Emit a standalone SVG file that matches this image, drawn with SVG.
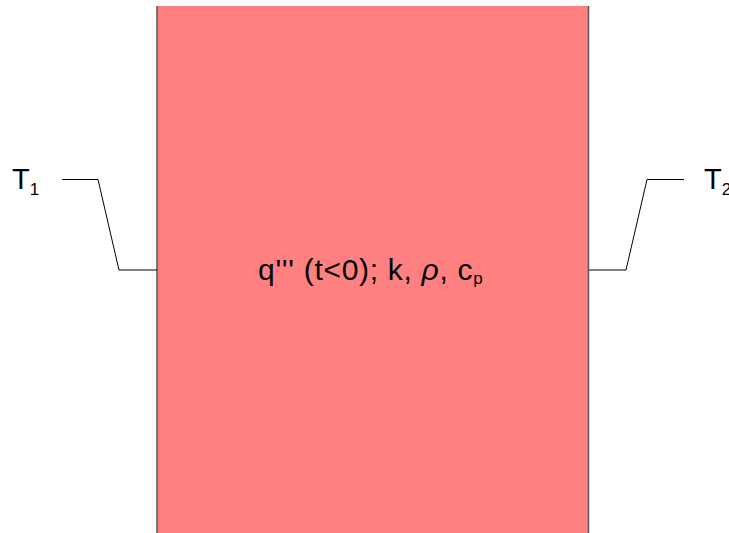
<svg xmlns="http://www.w3.org/2000/svg" width="729" height="533" viewBox="0 0 729 533">
<style>
.lbl{font-family:"Liberation Sans",Arial,sans-serif;fill:#000}
.wire{fill:none;stroke:#000;stroke-width:1}
</style>
<rect width="729" height="533" fill="#fff"/>
<g id="slab">
<rect x="157" y="6" width="431.5" height="540" fill="#ff8080"/>
<line x1="157" y1="6" x2="157" y2="533" stroke="#555" stroke-width="1.5"/>
<line x1="588.5" y1="6" x2="588.5" y2="533" stroke="#555" stroke-width="1.5"/>
<text class="lbl" x="258" y="280" font-size="30" letter-spacing="0.7">q''' (t&lt;0); k, <tspan font-style="italic">ρ</tspan>, c<tspan font-size="17" dy="4">p</tspan></text>
</g>
<g id="connectors">
<polyline class="wire" points="62,179.5 98,179.5 119,270 157,270"/>
<polyline class="wire" points="589,270 626,270 647,179.5 684,179.5"/>
</g>
<g id="T1">
<text class="lbl" x="12" y="189" font-size="29">T<tspan font-size="17" dy="6">1</tspan></text>
</g>
<g id="T2">
<text class="lbl" x="704" y="189" font-size="29">T<tspan font-size="17" dy="6">2</tspan></text>
</g>
</svg>
